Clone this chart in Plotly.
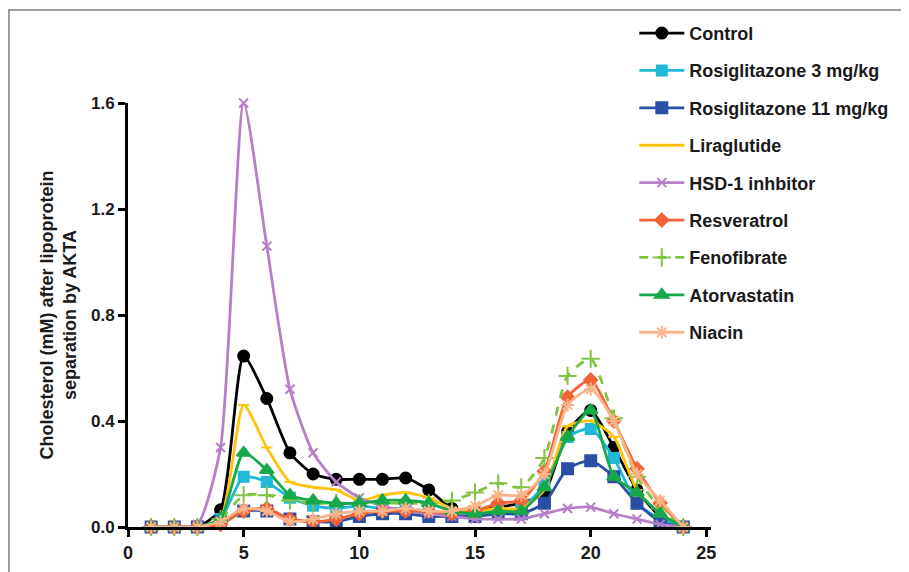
import plotly.graph_objects as go

x_vals = list(range(1, 25))

control = [0, 0, 0, 0.065, 0.645, 0.485, 0.28, 0.20, 0.18, 0.18, 0.18, 0.185, 0.14, 0.07, 0.06, 0.075, 0.09, 0.13, 0.36, 0.44, 0.30, 0.14, 0.04, 0]
rosi3 = [0, 0, 0, 0.03, 0.19, 0.17, 0.11, 0.08, 0.07, 0.08, 0.07, 0.07, 0.06, 0.05, 0.05, 0.06, 0.07, 0.16, 0.34, 0.37, 0.26, 0.09, 0.03, 0]
rosi11 = [0, 0, 0, 0.02, 0.06, 0.06, 0.03, 0.02, 0.02, 0.04, 0.05, 0.05, 0.04, 0.04, 0.04, 0.05, 0.05, 0.09, 0.22, 0.25, 0.19, 0.09, 0.02, 0]
liraglutide = [0, 0, 0, 0.03, 0.46, 0.30, 0.17, 0.15, 0.14, 0.10, 0.12, 0.13, 0.11, 0.07, 0.06, 0.07, 0.07, 0.14, 0.38, 0.40, 0.34, 0.14, 0.05, 0]
hsd1 = [0, 0, 0.01, 0.30, 1.60, 1.06, 0.52, 0.28, 0.17, 0.11, 0.08, 0.06, 0.05, 0.04, 0.03, 0.03, 0.03, 0.05, 0.07, 0.075, 0.05, 0.03, 0.01, 0]
resveratrol = [0, 0, 0, 0.01, 0.06, 0.07, 0.03, 0.02, 0.03, 0.05, 0.06, 0.06, 0.06, 0.05, 0.06, 0.09, 0.10, 0.21, 0.49, 0.555, 0.40, 0.22, 0.09, 0]
fenofibrate = [0, 0, 0, 0.03, 0.12, 0.12, 0.10, 0.09, 0.09, 0.09, 0.09, 0.09, 0.09, 0.10, 0.13, 0.165, 0.15, 0.26, 0.57, 0.635, 0.41, 0.19, 0.07, 0]
atorvastatin = [0, 0, 0, 0.03, 0.28, 0.215, 0.12, 0.10, 0.09, 0.09, 0.10, 0.10, 0.09, 0.06, 0.05, 0.06, 0.06, 0.15, 0.34, 0.44, 0.19, 0.13, 0.05, 0]
niacin = [0, 0, 0, 0.02, 0.07, 0.06, 0.02, 0.03, 0.05, 0.06, 0.06, 0.07, 0.06, 0.06, 0.08, 0.12, 0.12, 0.20, 0.46, 0.52, 0.40, 0.20, 0.10, 0]

series_names = ["Control", "Rosiglitazone 3 mg/kg", "Rosiglitazone 11 mg/kg", "Liraglutide",
                "HSD-1 inhbitor", "Resveratrol", "Fenofibrate", "Atorvastatin", "Niacin"]
series_data = [control, rosi3, rosi11, liraglutide, hsd1, resveratrol, fenofibrate, atorvastatin, niacin]
colors = ["#000000", "#22b8d8", "#2a4fa6", "#ffc20e", "#b57fca", "#f26234", "#80c342", "#17a84b", "#f9b48a"]
symbols = ["circle", "square", "square", "line-ew-open", "x-thin-open", "diamond", "cross-thin-open", "triangle-up", "asterisk-open"]
msizes = [11, 10, 11, 8, 9, 10, 13, 12, 11]
dashes = ["solid", "solid", "solid", "solid", "solid", "solid", "dash", "solid", "solid"]

x_ticks = [0, 5, 10, 15, 20, 25]
y_ticks = [0.0, 0.4, 0.8, 1.2, 1.6]

fig = go.Figure()
for i, (name, ys) in enumerate(zip(series_names, series_data)):
    fig.add_trace(go.Scatter(
        x=x_vals, y=ys, name=name, mode="lines+markers",
        line=dict(color=colors[i], width=2.8, shape="spline", smoothing=0.6, dash=dashes[i]),
        marker=dict(symbol=symbols[i], size=msizes[i], color=colors[i],
                    line=dict(color=colors[i], width=2)),
        legendgroup=name, cliponaxis=False,
    ))

font_fam = "Liberation Sans, Arial, sans-serif"

# plot area: left 120, top 95, width 582.6, height 424 (page adds 8px body margin)
L, T, W, H = 120, 95, 582.6, 424
fig.update_layout(
    width=909, height=572,
    margin=dict(l=L, r=909 - L - W, t=T, b=572 - T - H, autoexpand=False),
    paper_bgcolor="white", plot_bgcolor="white",
    font=dict(family=font_fam, size=18, color="#1a1a1a", weight="bold"),
    showlegend=True,
    legend=dict(xref="container", yref="container", x=0.689, y=0.988,
                xanchor="left", yanchor="top", traceorder="grouped",
                tracegroupgap=11, maxheight=1.0,
                font=dict(size=18, family=font_fam, weight="bold"),
                itemwidth=45, bgcolor="rgba(0,0,0,0)"),
    xaxis=dict(range=[0, 25.2], tickvals=x_ticks, ticktext=[str(v) for v in x_ticks],
               showline=True, linecolor="black", linewidth=3, ticks="outside",
               ticklen=7, tickwidth=3, tickcolor="black", showgrid=False, zeroline=False,
               tickfont=dict(size=18, family=font_fam, weight="bold")),
    yaxis=dict(range=[0, 1.6], tickvals=y_ticks, ticktext=["0.0", "0.4", "0.8", "1.2", "1.6"],
               showline=True, linecolor="black", linewidth=3, ticks="outside",
               ticklen=7, tickwidth=3, tickcolor="black", showgrid=False, zeroline=False,
               tickfont=dict(size=17, family=font_fam, weight="bold"),
               title=dict(text="Cholesterol (mM) after lipoprotein<br>separation by AKTA",
                          font=dict(size=18, family=font_fam, weight="bold"), standoff=10)),
)

fig.add_shape(type="rect", xref="paper", yref="paper",
              x0=(1 - L) / W, x1=(930 - L) / W,
              y0=-(600 - T - H) / H, y1=(T + H - 2) / H,
              line=dict(color="#808080", width=1.5), fillcolor="rgba(0,0,0,0)", layer="above")

fig.write_html("out.html")
